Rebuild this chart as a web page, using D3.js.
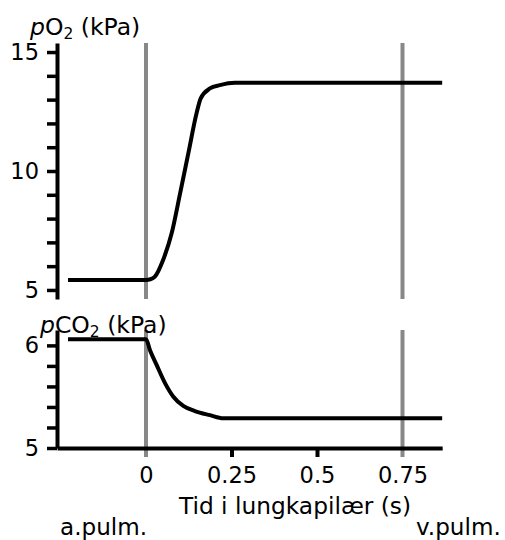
<!DOCTYPE html>
<html>
<head>
<meta charset="utf-8">
<script src="https://cdn.jsdelivr.net/npm/d3@7"></script>
<style>
  html, body { margin: 0; padding: 0; background: #fff; }
  svg { display: block; font-family: "DejaVu Sans", Verdana, sans-serif; }
</style>
</head>
<body>
<svg id="chart" width="505" height="540"></svg>
<script>
// ---- data ----
const timeO2 = [-0.228, 0, 0.013, 0.026, 0.05, 0.075, 0.1, 0.124, 0.148, 0.16, 0.187, 0.216, 0.26, 0.866];
const pO2    = [5.42, 5.42, 5.45, 5.56, 6.26, 7.38, 9.08, 10.76, 12.44, 13.05, 13.47, 13.61, 13.71, 13.71];
const timeCO2 = [-0.228, 0, 0.012, 0.031, 0.056, 0.08, 0.109, 0.143, 0.187, 0.226, 0.866];
const pCO2    = [6.06, 6.06, 5.95, 5.81, 5.63, 5.50, 5.41, 5.36, 5.32, 5.29, 5.29];
const xTicks = [0, 0.25, 0.5, 0.75];
const xTickLabels = ["0", "0.25", "0.5", "0.75"];
const markerTimes = [0, 0.75];
const o2Ticks = [5, 6, 7, 8, 9, 10, 11, 12, 13, 14, 15];
const o2Labels = [5, 10, 15];
const co2Ticks = [5, 5.2, 5.4, 5.6, 5.8, 6];
const co2Labels = [5, 6];

const svg = d3.select("#chart");

const x = d3.scaleLinear().domain([0, 0.75]).range([146, 402.5]);
const xMin = -0.26, xMax = 0.866;

const yO2 = d3.scaleLinear().domain([4.62, 15.38]).range([299, 43]);
const yCO2 = d3.scaleLinear().domain([5, 6.15]).range([448, 330]);

const AX = 57;
const GREY = "#888888";

// grey marker lines
markerTimes.forEach(t => {
  svg.append("line").attr("x1", x(t)).attr("x2", x(t))
    .attr("y1", yO2.range()[1]).attr("y2", yO2.range()[0])
    .attr("stroke", GREY).attr("stroke-width", 4);
  svg.append("line").attr("x1", x(t)).attr("x2", x(t))
    .attr("y1", yCO2.range()[1]).attr("y2", 457)
    .attr("stroke", GREY).attr("stroke-width", 4);
});

function styleAxis(g) {
  g.select(".domain").attr("stroke", "#000").attr("stroke-width", 4);
  g.selectAll(".tick line").attr("stroke", "#000").attr("stroke-width", 3.5);
  g.selectAll(".tick text").attr("fill", "#000").style("font-size", "22.5px")
    .style("font-family", '"DejaVu Sans", Verdana, sans-serif');
}

// top y axis
const gO2 = svg.append("g").attr("transform", `translate(${AX},0)`)
  .call(d3.axisLeft(yO2).tickValues(o2Ticks).tickSize(10).tickSizeOuter(0).tickPadding(8)
    .tickFormat(d => o2Labels.includes(d) ? d : ""));
styleAxis(gO2);

// bottom y axis
const gCO2 = svg.append("g").attr("transform", `translate(${AX},0)`)
  .call(d3.axisLeft(yCO2).tickValues(co2Ticks).tickSize(10).tickSizeOuter(0).tickPadding(8)
    .tickFormat(d => co2Labels.some(v => Math.abs(v - d) < 1e-9) ? d3.format("d")(d) : ""));
styleAxis(gCO2);

// x axis (bottom)
const xAxisScale = x.copy().domain([xMin, xMax]).range([x(xMin), x(xMax)]);
const gX = svg.append("g").attr("transform", `translate(0,${yCO2(5)})`)
  .call(d3.axisBottom(xAxisScale).tickValues(xTicks).tickSize(9).tickSizeOuter(0).tickPadding(10)
    .tickFormat((d, i) => xTickLabels[i]));
styleAxis(gX);
gX.selectAll(".tick line").attr("stroke", (d) => markerTimes.includes(d) ? "none" : "#000").attr("stroke-width", 4);

// data lines
const lineO2 = d3.line().x((d, i) => x(timeO2[i])).y(d => yO2(d)).curve(d3.curveMonotoneX);
svg.append("path").datum(pO2).attr("d", lineO2)
  .attr("fill", "none").attr("stroke", "#000").attr("stroke-width", 4);

const lineCO2 = d3.line().x((d, i) => x(timeCO2[i])).y(d => yCO2(d)).curve(d3.curveMonotoneX);
svg.append("path").datum(pCO2).attr("d", lineCO2)
  .attr("fill", "none").attr("stroke", "#000").attr("stroke-width", 4);

// axis titles
function gasLabel(xp, yp, gas) {
  const t = svg.append("text").attr("x", xp).attr("y", yp)
    .style("font-size", "23.5px").attr("fill", "#000");
  t.append("tspan").style("font-style", "italic").text("p");
  t.append("tspan").text(gas);
  t.append("tspan").attr("dy", 4).style("font-size", "15.5px").text("2");
  t.append("tspan").attr("dy", -4).text(" (kPa)");
}
gasLabel(30, 35, "O");
gasLabel(40, 333, "CO");

svg.append("text").attr("x", 295).attr("y", 514).attr("text-anchor", "middle")
  .style("font-size", "23.3px").text("Tid i lungkapilær (s)");
svg.append("text").attr("x", 60).attr("y", 535)
  .style("font-size", "23.1px").text("a.pulm.");
svg.append("text").attr("x", 416).attr("y", 535)
  .style("font-size", "23.1px").text("v.pulm.");
</script>
</body>
</html>
